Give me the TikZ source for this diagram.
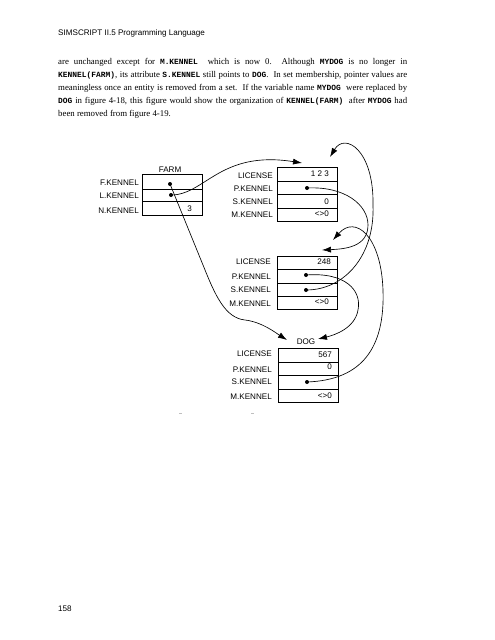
\documentclass[tikz,border=0pt]{standalone}
\usepackage{fontspec}
\setmainfont{Liberation Serif}
\setsansfont{Liberation Sans}
\newfontfamily\codefont{Liberation Mono}
\usetikzlibrary{arrows.meta}
\newcommand\cd[1]{{\codefont\bfseries\fontsize{7.9pt}{13pt}\selectfont #1}}
\begin{document}
\begin{tikzpicture}[x=1pt,y=-1pt,
  cell/.style={draw, line width=0.7pt, minimum width=60pt, inner sep=0pt, anchor=north west},
  lab/.style={anchor=east, inner sep=0pt, font=\sffamily\fontsize{8.1}{9}\selectfont},
  val/.style={anchor=east, inner sep=0pt, font=\sffamily\fontsize{8.1}{9}\selectfont},
  ttl/.style={anchor=center, inner sep=0pt, font=\sffamily\fontsize{8.1}{9}\selectfont},
  dot/.style={circle, fill, inner sep=0pt, minimum size=4pt},
  ptr/.style={line width=0.65pt, -{Latex[length=9pt,width=6pt]}},
]
\useasboundingbox (0,0) rectangle (495,640);

% header and text
\node[anchor=base west, inner sep=0pt, font=\sffamily\fontsize{8.1}{9}\selectfont] (hdr) at (58,35) {SIMSCRIPT II.5 Programming Language};
\node[anchor=base west, inner sep=0pt, text width=349pt, align=justify, font=\fontsize{8.8}{13}\selectfont] (para) at (58,64)
{are unchanged except for \cd{M.KENNEL}\ \ which is now 0.\ \ Although \cd{MYDOG} is no longer in\linebreak
\cd{KENNEL(FARM)}, its attribute \cd{S.KENNEL} still points to \cd{DOG}.\ \ In set membership, pointer values are\linebreak
meaningless once an entity is removed from a set.\ \ If the variable name \cd{MYDOG}\ \ were replaced by\linebreak
\cd{DOG} in figure 4-18, this figure would show the organization of \cd{KENNEL(FARM)}\ \ after \cd{MYDOG} had\linebreak
been removed from figure 4-19.};
\node[anchor=base west, inner sep=0pt, font=\sffamily\fontsize{8.1}{9}\selectfont] (pg) at (58,611) {158};

% FARM
\node[ttl] (farm) at (170,170) {FARM};
\node[cell, minimum height=14.5pt] (fF) at (142,174) {};
\node[cell, minimum height=12.5pt] (fL) at (142,188.5) {};
\node[cell, minimum height=14pt] (fN) at (142,201) {};
\node[lab] (lF) at (139,183) {F.KENNEL};
\node[lab] (lL) at (139,195.5) {L.KENNEL};
\node[lab] (lN) at (139,210.5) {N.KENNEL};
\node[val] (vN) at (192,208.5) {3};
\node[dot] (dF) at (170,184) {};
\node[dot] (dL) at (171,195) {};

% box 1
\node[cell, minimum height=13.5pt] (a1) at (277,167) {};
\node[cell, minimum height=13.5pt] (a2) at (277,180.5) {};
\node[cell, minimum height=13.5pt] (a3) at (277,194) {};
\node[cell, minimum height=13.5pt] (a4) at (277,207.5) {};
\node[lab] (la1) at (273,176) {LICENSE};
\node[lab] (la2) at (273,188.5) {P.KENNEL};
\node[lab] (la3) at (273,202) {S.KENNEL};
\node[lab] (la4) at (273,215) {M.KENNEL};
\node[val] (va1) at (329,174) {1 2 3};
\node[val] (va3) at (329,201.5) {0};
\node[val] (va4) at (329,214) {<>0};
\node[dot] (dA) at (307,188) {};

% box 2
\node[cell, minimum height=13.25pt] (b1) at (277,256) {};
\node[cell, minimum height=13.25pt] (b2) at (277,269.25) {};
\node[cell, minimum height=13.25pt] (b3) at (277,282.5) {};
\node[cell, minimum height=13.25pt] (b4) at (277,295.75) {};
\node[lab] (lb1) at (271,262) {LICENSE};
\node[lab] (lb2) at (271,277) {P.KENNEL};
\node[lab] (lb3) at (271,290) {S.KENNEL};
\node[lab] (lb4) at (271,304) {M.KENNEL};
\node[val] (vb1) at (331,262) {248};
\node[val] (vb4) at (329,302) {<>0};
\node[dot] (dBP) at (306,275) {};
\node[dot] (dBS) at (306,290) {};

% box 3 (DOG)
\node[ttl] (dog) at (306,342) {DOG};
\node[cell, minimum height=13.5pt] (c1) at (278,348) {};
\node[cell, minimum height=13.5pt] (c2) at (278,361.5) {};
\node[cell, minimum height=13.5pt] (c3) at (278,375) {};
\node[cell, minimum height=13.5pt] (c4) at (278,388.5) {};
\node[lab] (lc1) at (272,354) {LICENSE};
\node[lab] (lc2) at (272,369.5) {P.KENNEL};
\node[lab] (lc3) at (272,382) {S.KENNEL};
\node[lab] (lc4) at (272,397) {M.KENNEL};
\node[val] (vc1) at (332,355) {567};
\node[val] (vc2) at (332,367) {0};
\node[val] (vc4) at (332,396) {<>0};
\node[dot] (dC) at (307,382) {};

% arrow targets
\coordinate (t1) at (302,163);
\coordinate (t2) at (330,157);
\coordinate (t3) at (322,250);
\coordinate (t4) at (333,240);
\coordinate (t5) at (318,339);
\coordinate (t6) at (287,340);

% pointers
\draw[ptr] (dL.center) .. controls (205,195) and (220,150) .. (t1);
\draw[ptr] (dBS.center) .. controls (345,290) and (375,255) .. (373,205) .. controls (374,150) and (345,132) .. (t2);
\draw[ptr] (dA.center) .. controls (345,186) and (368,205) .. (368,225) .. controls (368,247) and (345,249) .. (t3);
\draw[ptr] (dC.center) .. controls (362,380) and (385,348) .. (383,290) .. controls (381,235) and (355,215) .. (t4);
\draw[ptr] (dBP.center) .. controls (345,272) and (362,290) .. (358,310) .. controls (355,328) and (335,335) .. (t5);
\draw[ptr] (dF.center) -- (203,265) .. controls (215,295) and (225,318) .. (245,320) .. controls (262,322) and (276,333) .. (t6);

% faint marks
\draw[gray!50, line width=0.5pt] (179,413) -- (182,413);
\draw[gray!50, line width=0.5pt] (251,413) -- (254,413);
\end{tikzpicture}
\end{document}
